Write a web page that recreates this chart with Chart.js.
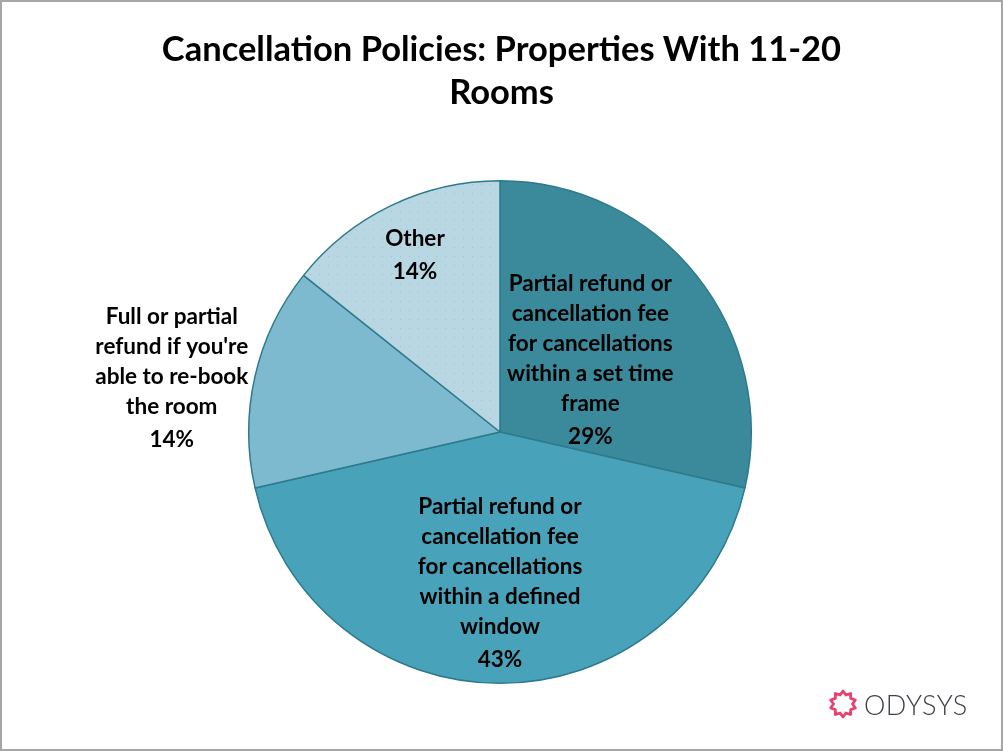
<!DOCTYPE html>
<html>
<head>
<meta charset="utf-8">
<script src="https://cdn.jsdelivr.net/npm/chart.js@4.4.0/dist/chart.umd.min.js"></script>
<style>
  html, body { margin: 0; padding: 0; background: #fff; }
  #wrap { position: relative; width: 1003px; height: 752px; overflow: hidden; }
  #frame { position: absolute; left: 0; top: 0; width: 999px; height: 747px; border: 2px solid #A6A6A6; box-sizing: content-box; pointer-events: none; }
  #title { position: absolute; left: 0; top: 26px; width: 1003px; text-align: center;
           font-family: Lato, "Open Sans", sans-serif; font-weight: 700; font-size: 34.5px;
           line-height: 43px; color: #000; }
  #logo { position: absolute; left: 828px; top: 688px; height: 32px; display: flex; align-items: center; }
  #logo span { font-family: Lato, sans-serif; font-weight: 300; font-size: 27px; color: #3B4046; letter-spacing: 0.5px; margin-left: 6px; }
  canvas { position: absolute; left: 0; top: 0; }
</style>
</head>
<body>
<div id="wrap">
  <canvas id="c" width="1003" height="752"></canvas>
  <div id="title">Cancellation Policies: Properties With 11-20<br>Rooms</div>
  <div id="logo">
    <svg width="30" height="30" viewBox="-15 -15 30 30">
      <polygon id="star" fill="none" stroke="#E9416E" stroke-width="2.8" stroke-linejoin="round"></polygon>
    </svg>
    <span>ODYSYS</span>
  </div>
  <div id="frame"></div>
</div>
<script>
// ---- data ----
const categories = [
  "Partial refund or cancellation fee for cancellations within a set time frame",
  "Partial refund or cancellation fee for cancellations within a defined window",
  "Full or partial refund if you're able to re-book the room",
  "Other"
];
const values = [28.6, 42.9, 14.3, 14.3];
const percentLabels = ["29%", "43%", "14%", "14%"];
const labelLines = [
  ["Partial refund or", "cancellation fee", "for cancellations", "within a set time", "frame"],
  ["Partial refund or", "cancellation fee", "for cancellations", "within a defined", "window"],
  ["Full or partial", "refund if you're", "able to re-book", "the room"],
  ["Other"]
];

// ---- styling ----
const colors = ["#3A8A9C", "#48A3BA", "#7DBACF", null];
const labelRadius = [0.46, 0.60, 1.34, 0.78];
const labelShiftY = [0, 0, 21, 0];

// logo star
(function(){
  const pts = [];
  const n = 10;
  for (let i = 0; i < n * 2; i++) {
    const r = i % 2 === 0 ? 13 : 9.5;
    const a = -Math.PI / 2 + i * Math.PI / n;
    pts.push((r * Math.cos(a)).toFixed(2) + "," + (r * Math.sin(a)).toFixed(2));
  }
  document.getElementById("star").setAttribute("points", pts.join(" "));
})();

// dotted pattern for "Other"
function makePattern() {
  const p = document.createElement("canvas");
  p.width = 9; p.height = 9;
  const g = p.getContext("2d");
  g.fillStyle = "#B8D7E2";
  g.fillRect(0, 0, 9, 9);
  g.fillStyle = "#9DC0CD";
  g.fillRect(4, 4, 1, 1);
  return g.createPattern(p, "repeat");
}

const ctx = document.getElementById("c").getContext("2d");
colors[3] = makePattern();

const labelPlugin = {
  id: "sliceLabels",
  afterDatasetsDraw(chart) {
    const meta = chart.getDatasetMeta(0);
    const c = chart.ctx;
    c.save();
    c.font = "700 22.5px Lato, 'Open Sans', sans-serif";
    c.fillStyle = "#000";
    c.textAlign = "center";
    c.textBaseline = "middle";
    meta.data.forEach((arc, i) => {
      const p = arc.getProps(["x", "y", "startAngle", "endAngle", "outerRadius"], true);
      const mid = (p.startAngle + p.endAngle) / 2;
      const r = p.outerRadius * labelRadius[i];
      const cx = p.x + Math.cos(mid) * r;
      const cy = p.y + Math.sin(mid) * r + labelShiftY[i];
      const lines = labelLines[i].concat([percentLabels[i]]);
      const lh = 30, lastGap = 33;
      const total = (lines.length - 2) * lh + lastGap;
      let y = cy - total / 2;
      lines.forEach((t, k) => {
        c.fillText(t, cx, y);
        y += (k === lines.length - 2) ? lastGap : lh;
      });
    });
    c.restore();
  }
};

new Chart(ctx, {
  type: "pie",
  data: {
    labels: categories,
    datasets: [{
      data: values,
      backgroundColor: colors,
      borderColor: "#2E7A8C",
      borderWidth: 1.5
    }]
  },
  options: {
    responsive: false,
    animation: false,
    layout: { padding: { left: 248, right: 251, top: 180, bottom: 68 } },
    plugins: {
      legend: { display: false },
      tooltip: { enabled: false },
      title: { display: false }
    }
  },
  plugins: [labelPlugin]
});
</script>
</body>
</html>
